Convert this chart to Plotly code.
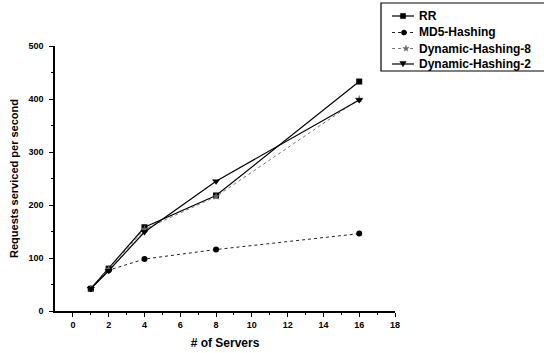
import math
import plotly.graph_objects as go

servers = [1, 2, 4, 8, 16]
rr = [42, 80, 158, 218, 433]
md5 = [42, 77, 98, 116, 146]
dyn8 = [42, 79, 154, 216, 400]
dyn2 = [42, 76, 149, 245, 398]
series_names = ["RR", "MD5-Hashing", "Dynamic-Hashing-8", "Dynamic-Hashing-2"]
x_ticks = list(range(0, 19, 2))
y_ticks = list(range(0, 501, 100))

FONT = "Liberation Sans"
W, H = 544, 353
ML, MR, MT, MB = 55, 149, 46, 42
PW, PH = W - ML - MR, H - MT - MB


def X(px):
    return (px - ML) / PW


def Y(py):
    return (H - MB - py) / PH


styles = [
    dict(line=dict(color="black", width=1.2), marker=dict(symbol="square", size=6, color="black")),
    dict(line=dict(color="#222", width=1, dash="dot"), marker=dict(symbol="circle", size=6, color="black")),
    dict(line=dict(color="#777", width=1, dash="dot"), marker=dict(symbol="star", size=6, color="#666")),
    dict(line=dict(color="black", width=1.2), marker=dict(symbol="triangle-down", size=7, color="black")),
]

fig = go.Figure()
for name, vals, st in zip(series_names, [rr, md5, dyn8, dyn2], styles):
    fig.add_trace(go.Scatter(x=servers, y=vals, name=name, mode="lines+markers",
                             showlegend=False, **st))

axis_common = dict(showline=True, linecolor="black", linewidth=1.5, ticks="outside",
                   tickcolor="black", ticklen=4, tickwidth=1.2, showgrid=False, zeroline=False,
                   automargin=False,
                   tickfont=dict(family=FONT, size=9, color="black"))

fig.update_xaxes(range=[-1, 18], tickvals=x_ticks,
                 ticktext=[f"<b>{v}</b>" for v in x_ticks],
                 minor=dict(ticks="outside", tickvals=list(range(1, 18, 2)), ticklen=2, tickcolor="black"),
                 title=dict(text="<b># of Servers</b>", font=dict(family=FONT, size=12, color="black"), standoff=10),
                 **axis_common)
fig.update_yaxes(range=[0, 500], tickvals=y_ticks,
                 ticktext=[f"<b>{v}</b>" for v in y_ticks],
                 minor=dict(ticks="outside", tickvals=list(range(50, 500, 100)), ticklen=2, tickcolor="black"),
                 ticklabelstandoff=4,
                 title=dict(text="<b>Requests serviced per second</b>", font=dict(family=FONT, size=11, color="black"), standoff=8),
                 **axis_common)

# manual legend box (Origin-style)
shapes = [dict(type="rect", xref="paper", yref="paper", x0=X(381), x1=X(560), y0=Y(71), y1=Y(3),
               line=dict(color="black", width=1.2), fillcolor="white", layer="above")]
annotations = []
row_y = [16, 32.5, 48.5, 64]
marker_x = [403, 404, 406, 403]


def star_path(r_out=3.2, r_in=1.3):
    pts = []
    for i in range(10):
        r = r_out if i % 2 == 0 else r_in
        a = math.pi / 2 + i * math.pi / 5
        pts.append((r * math.cos(a), r * math.sin(a)))
    return "M " + " L ".join(f"{px:.2f},{py:.2f}" for px, py in pts) + " Z"


for i, (name, st) in enumerate(zip(series_names, styles)):
    yy = Y(row_y[i])
    shapes.append(dict(type="line", xref="paper", yref="paper", x0=X(392), x1=X(414), y0=yy, y1=yy,
                       line=dict(color=st["line"]["color"], width=1.2, dash=st["line"].get("dash", "solid")),
                       layer="above"))
    mx = X(marker_x[i])
    sym = st["marker"]["symbol"]
    col = st["marker"]["color"]
    base = dict(xref="paper", yref="paper", xsizemode="pixel", ysizemode="pixel",
                xanchor=mx, yanchor=yy, fillcolor=col, line=dict(color=col, width=0.5), layer="above")
    if sym == "square":
        shapes.append(dict(type="rect", x0=-2.6, x1=2.6, y0=-2.6, y1=2.6, **base))
    elif sym == "circle":
        shapes.append(dict(type="circle", x0=-2.6, x1=2.6, y0=-2.6, y1=2.6, **base))
    elif sym == "star":
        shapes.append(dict(type="path", path=star_path(), **base))
    else:
        shapes.append(dict(type="path", path="M -3.2,2.6 L 3.2,2.6 L 0,-2.8 Z", **base))
    annotations.append(dict(xref="paper", yref="paper", x=X(417), y=yy, xanchor="left", yanchor="middle",
                            text=f"<b>{name}</b>", showarrow=False,
                            font=dict(family=FONT, size=12, color="black")))

fig.update_layout(width=W, height=H, margin=dict(l=ML, r=MR, t=MT, b=MB, autoexpand=False),
                  paper_bgcolor="white", plot_bgcolor="white",
                  font=dict(family=FONT, size=10, color="black"),
                  showlegend=False, shapes=shapes, annotations=annotations)
fig.write_html("out.html", config={"displayModeBar": False},
               post_script="document.body.style.margin='0';document.body.style.overflow='hidden';")
